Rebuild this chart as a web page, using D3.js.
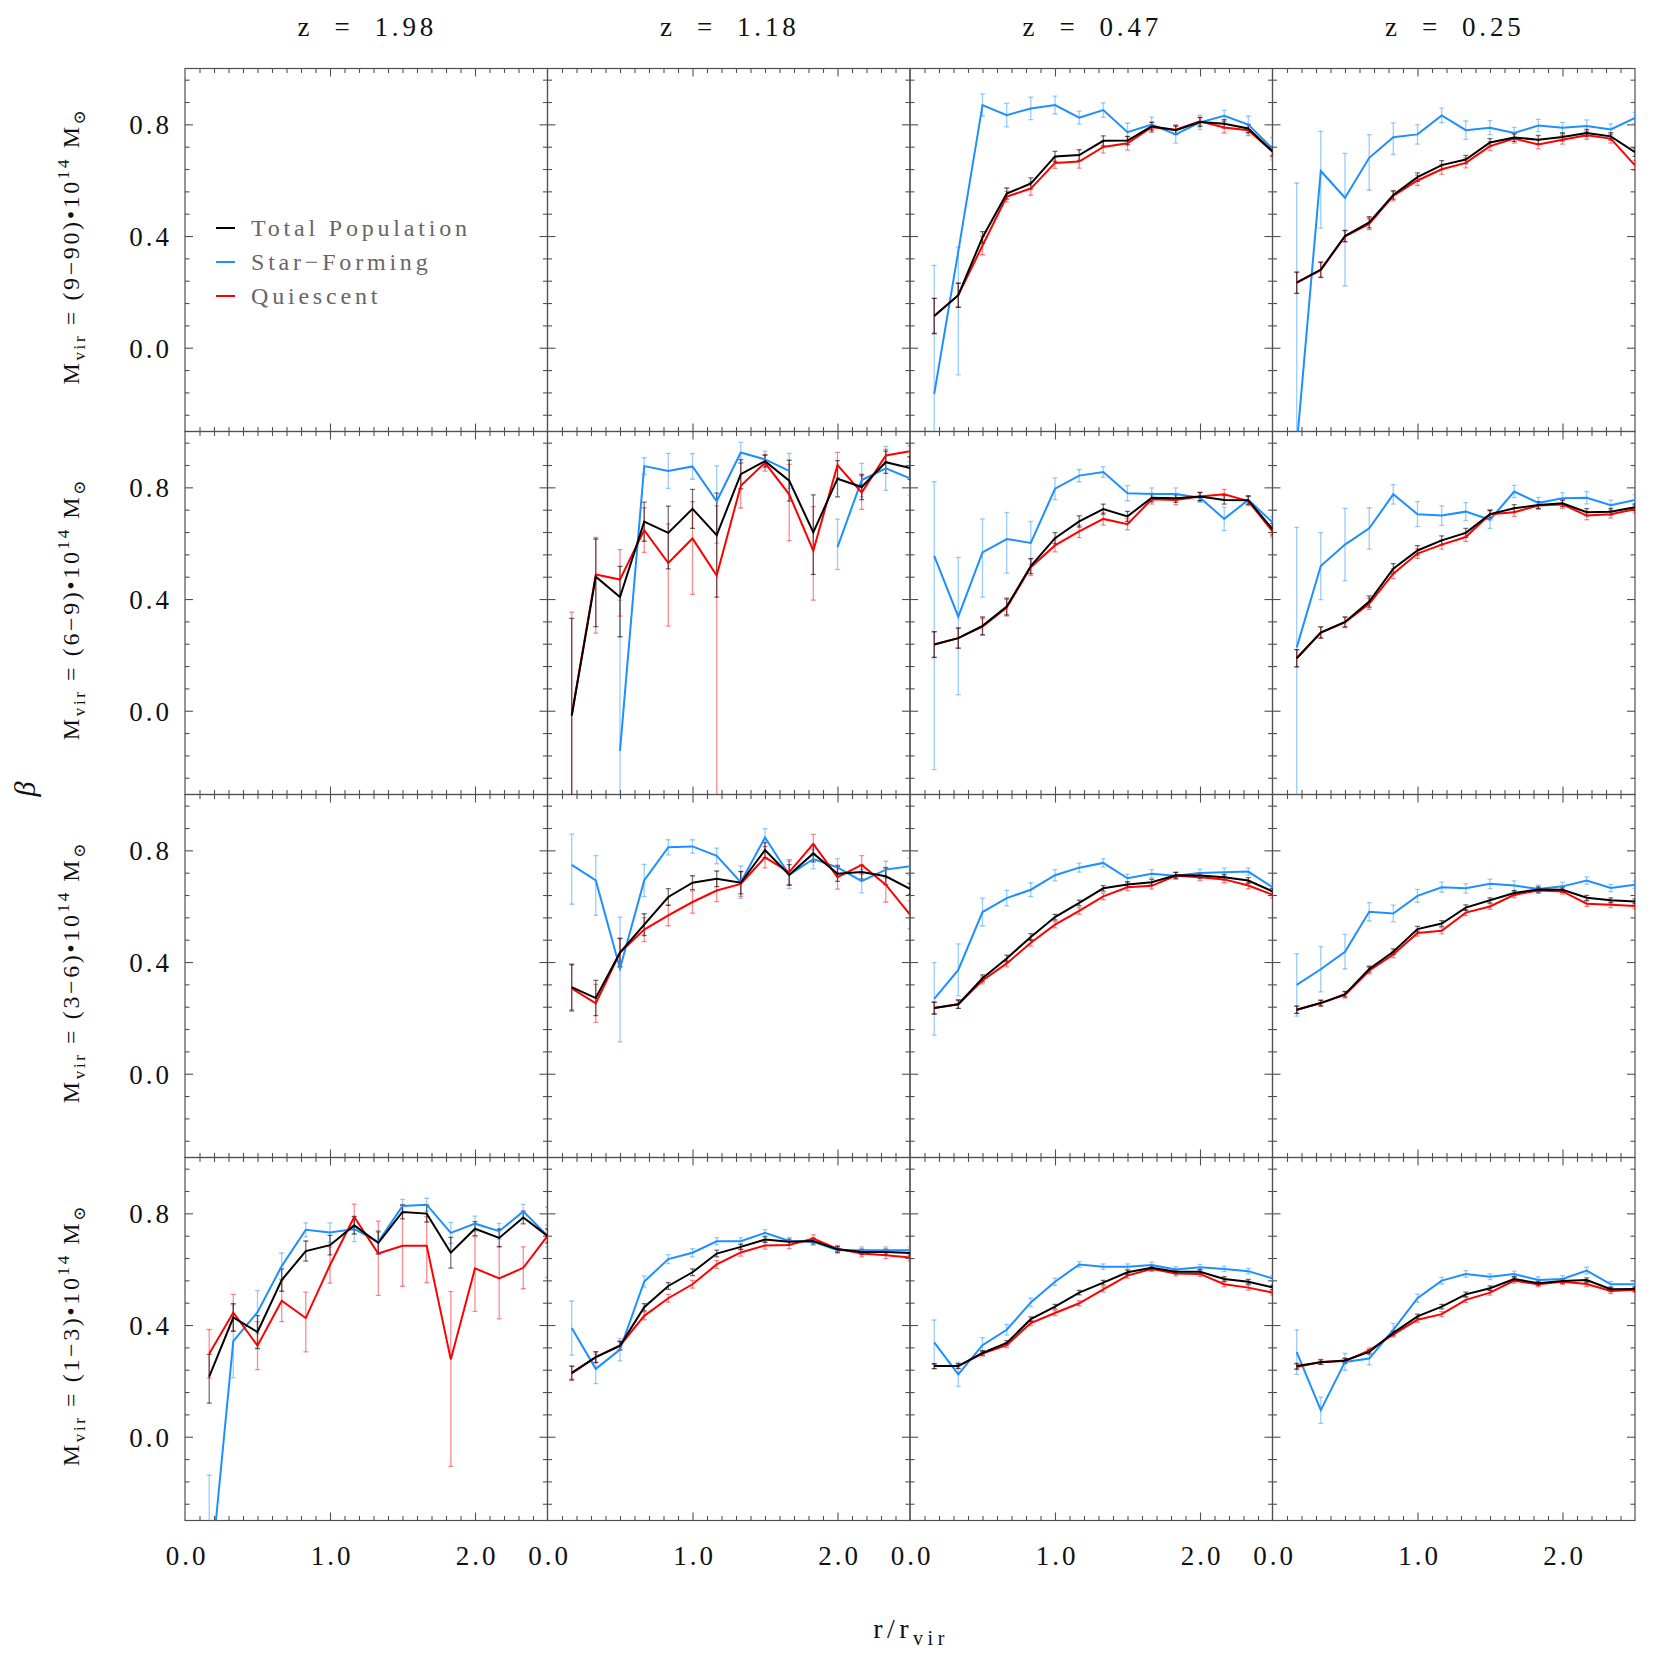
<!DOCTYPE html>
<html><head><meta charset="utf-8">
<script src="https://cdn.jsdelivr.net/npm/d3@7"></script>
<style>body{margin:0;background:#fff}</style>
</head><body>
<script>
// ---------------- DATA ----------------
const rBins = [0.167,0.333,0.5,0.667,0.833,1.0,1.167,1.333,1.5,1.667,1.833,2.0,2.167,2.333,2.5];
const redshifts = ["1.98","1.18","0.47","0.25"];
const massBins = ["9−90","6−9","3−6","1−3"];
const yTickValues = [0.0,0.4,0.8];
const yTickLabels = ["0.0","0.4","0.8"];
const xTickValues = [0,1,2];
const xTickLabels = ["0.0","1.0","2.0"];
const seriesNames = ["Total Population","Star−Forming","Quiescent"];
const seriesColors = ["#000000","#1e8fff","#ff0000"];
// error entries: a number (symmetric) or [minus, plus]

// row 1: M = (9-90)e14, z = 0.47
const tot_m1_z047 = [0.114,0.188,0.395,0.552,0.588,0.685,0.690,0.741,0.742,0.793,0.779,0.808,0.802,0.785,0.703];
const totErr_m1_z047 = [0.063,0.043,0.021,0.02,0.02,0.018,0.019,0.018,0.015,0.014,0.015,0.016,0.015,0.015,0.015];
const sf_m1_z047 = [-0.165,0.345,0.869,0.833,0.857,0.869,0.824,0.851,0.772,0.799,0.764,0.807,0.831,0.799,0.713];
const sfErr_m1_z047 = [0.46,[0.442,0.015],0.04,0.042,0.04,0.032,0.023,0.026,0.032,0.027,0.031,0.026,0.019,0.03,0.04];
const q_m1_z047 = [0.114,0.188,0.366,0.541,0.570,0.662,0.667,0.719,0.732,0.790,0.781,0.811,0.789,0.779,0.703];
const qErr_m1_z047 = [0.063,0.043,0.033,0.019,0.024,0.02,0.024,0.022,0.024,0.018,0.018,0.015,0.02,0.019,0.02];
// row 1, z = 0.25
const tot_m1_z025 = [0.233,0.280,0.400,0.449,0.547,0.611,0.654,0.674,0.735,0.753,0.745,0.755,0.769,0.757,0.700];
const totErr_m1_z025 = [0.038,0.027,0.02,0.02,0.015,0.015,0.016,0.015,0.014,0.014,0.015,0.014,0.013,0.013,0.015];
const sf_m1_z025 = [-0.35,0.633,0.537,0.680,0.754,0.764,0.832,0.779,0.788,0.769,0.796,0.788,0.794,0.782,0.823];
const sfErr_m1_z025 = [0.94,[0.205,0.142],[0.316,0.159],[0.116,0.083],[0.062,0.051],0.035,0.026,0.033,0.025,0.02,0.022,0.019,0.022,0.02,0.02];
const q_m1_z025 = [0.233,0.278,0.399,0.443,0.544,0.599,0.639,0.662,0.722,0.749,0.728,0.745,0.761,0.749,0.653];
const qErr_m1_z025 = [0.038,0.027,0.02,0.02,0.018,0.018,0.018,0.018,0.016,0.016,0.016,0.016,0.015,0.016,0.018];

// row 2: M = (6-9)e14, z = 1.18
const tot_m2_z118 = [-0.017,0.480,0.407,0.677,0.637,0.723,0.629,0.847,0.894,0.824,0.639,0.831,0.801,0.890,0.869];
const totErr_m2_z118 = [0.348,[0.179,0.135],[0.142,0.110],0.07,[0.129,0.096],0.07,[0.222,0.150],0.052,0.021,0.073,[0.151,0.134],0.065,0.045,0.04,0.04];
const sf_m2_z118 = [null,null,-0.144,0.876,0.859,0.875,0.750,0.925,0.900,0.859,null,0.586,0.826,0.868,0.832];
const sfErr_m2_z118 = [null,null,0.54,0.03,0.063,0.046,[0.15,0.127],0.036,0.03,0.063,null,[0.08,0.10],0.06,0.079,0.06];
const q_m2_z118 = [-0.017,0.488,0.470,0.647,0.529,0.617,0.484,0.806,0.888,0.775,0.573,0.880,0.781,0.914,0.929];
const qErr_m2_z118 = [0.37,[0.21,0.133],[0.131,0.107],0.08,[0.226,0.14],[0.2,0.132],[0.8,0.25],0.08,0.03,[0.166,0.107],[0.177,0.158],0.045,0.06,0.022,0.02];
// row 2, z = 0.47
const tot_m2_z047 = [0.237,0.260,0.304,0.373,0.518,0.618,0.678,0.722,0.696,0.763,0.761,0.767,0.755,0.754,0.650];
const totErr_m2_z047 = [0.046,0.036,0.032,0.03,0.027,0.02,0.02,0.018,0.018,0.015,0.015,0.015,0.015,0.015,0.02];
const sf_m2_z047 = [0.555,0.337,0.567,0.615,0.601,0.795,0.842,0.855,0.779,0.776,0.776,0.763,0.687,0.755,0.675];
const sfErr_m2_z047 = [[0.766,0.265],[0.28,0.212],[0.16,0.12],[0.122,0.095],0.077,0.039,0.022,0.019,0.027,0.022,0.022,0.017,0.042,0.015,0.02];
const q_m2_z047 = [0.237,0.260,0.301,0.369,0.514,0.592,0.642,0.687,0.668,0.757,0.755,0.767,0.775,0.751,0.642];
const qErr_m2_z047 = [0.046,0.036,0.03,0.03,0.03,0.023,0.022,0.022,0.02,0.017,0.017,0.015,0.018,0.017,0.02];
// row 2, z = 0.25
const tot_m2_z025 = [0.188,0.280,0.318,0.391,0.509,0.574,0.610,0.637,0.704,0.725,0.737,0.743,0.711,0.713,0.729];
const totErr_m2_z025 = [0.031,0.02,0.018,0.02,0.018,0.017,0.016,0.016,0.014,0.013,0.012,0.012,0.013,0.012,0.012];
const sf_m2_z025 = [0.227,0.518,0.595,0.653,0.775,0.704,0.699,0.713,0.684,0.785,0.744,0.761,0.763,0.736,0.755];
const sfErr_m2_z025 = [[0.55,0.43],0.12,0.13,0.074,0.035,0.045,0.035,0.032,0.031,0.022,0.02,0.02,0.022,0.018,0.018];
const q_m2_z025 = [0.188,0.280,0.316,0.383,0.491,0.563,0.595,0.622,0.704,0.711,0.735,0.739,0.699,0.704,0.722];
const qErr_m2_z025 = [0.031,0.02,0.018,0.02,0.018,0.017,0.016,0.016,0.015,0.015,0.014,0.014,0.015,0.014,0.014];

// row 3: M = (3-6)e14, z = 1.18
const tot_m3_z118 = [0.310,0.271,0.434,0.534,0.633,0.684,0.698,0.684,0.801,0.712,0.789,0.716,0.722,0.707,0.662];
const totErr_m3_z118 = [0.082,0.063,0.05,0.039,0.03,0.025,0.028,0.04,0.027,0.037,0.03,0.027,0.025,0.03,0.02];
const sf_m3_z118 = [0.748,0.692,0.377,0.692,0.811,0.814,0.780,0.686,0.846,0.712,0.769,0.739,0.690,0.731,0.743];
const sfErr_m3_z118 = [[0.141,0.11],[0.125,0.089],[0.263,0.184],0.058,0.027,0.024,0.028,0.058,0.032,0.049,0.035,0.031,0.042,0.03,0.03];
const q_m3_z118 = [0.306,0.252,0.434,0.516,0.567,0.615,0.656,0.680,0.775,0.722,0.823,0.704,0.748,0.677,0.570];
const qErr_m3_z118 = [0.083,0.068,0.052,0.043,0.037,0.04,0.04,0.045,0.038,0.045,0.034,0.043,0.033,0.062,0.05];
// row 3, z = 0.47
const tot_m3_z047 = [0.235,0.249,0.342,0.413,0.490,0.561,0.612,0.664,0.678,0.686,0.711,0.710,0.704,0.692,0.653];
const totErr_m3_z047 = [0.021,0.015,0.012,0.012,0.012,0.01,0.01,0.01,0.01,0.01,0.01,0.01,0.01,0.01,0.01];
const sf_m3_z047 = [0.268,0.372,0.579,0.629,0.659,0.711,0.738,0.755,0.700,0.716,0.709,0.719,0.722,0.724,0.668];
const sfErr_m3_z047 = [0.13,0.093,0.05,0.028,0.025,0.02,0.016,0.015,0.015,0.015,0.012,0.014,0.015,0.013,0.015];
const q_m3_z047 = [0.235,0.249,0.334,0.395,0.469,0.534,0.583,0.635,0.668,0.673,0.709,0.704,0.696,0.674,0.641];
const qErr_m3_z047 = [0.021,0.015,0.012,0.012,0.012,0.012,0.012,0.012,0.012,0.012,0.012,0.012,0.012,0.012,0.012];
// row 3, z = 0.25
const tot_m3_z025 = [0.229,0.253,0.285,0.375,0.437,0.518,0.538,0.595,0.621,0.647,0.660,0.659,0.630,0.621,0.617];
const totErr_m3_z025 = [0.013,0.01,0.01,0.01,0.01,0.01,0.01,0.01,0.009,0.009,0.009,0.009,0.009,0.009,0.009];
const sf_m3_z025 = [0.318,0.374,0.437,0.580,0.574,0.637,0.668,0.664,0.680,0.674,0.662,0.671,0.692,0.665,0.677];
const sfErr_m3_z025 = [0.112,0.081,0.062,0.033,0.03,0.023,0.018,0.017,0.017,0.017,0.013,0.015,0.013,0.013,0.013];
const q_m3_z025 = [0.229,0.253,0.282,0.369,0.427,0.504,0.512,0.577,0.599,0.641,0.656,0.653,0.609,0.605,0.601];
const qErr_m3_z025 = [0.013,0.011,0.011,0.011,0.011,0.011,0.011,0.011,0.01,0.01,0.01,0.01,0.01,0.01,0.01];

// row 4: M = (1-3)e14, z = 1.98
const tot_m4_z198 = [0.215,0.427,0.375,0.561,0.665,0.686,0.757,0.694,0.805,0.799,0.659,0.745,0.712,0.785,0.719];
const totErr_m4_z198 = [[0.095,0.08],0.05,0.059,0.04,0.036,0.035,0.031,0.04,0.025,0.03,0.055,0.025,0.032,0.023,0.025];
const sf_m4_z198 = [-0.548,0.342,0.446,0.611,0.741,0.731,0.744,0.698,0.826,0.831,0.730,0.763,0.736,0.807,0.719];
const sfErr_m4_z198 = [0.41,0.13,0.077,0.047,0.025,0.035,0.045,0.04,0.024,0.023,0.038,0.027,0.028,0.025,0.04];
const q_m4_z198 = [0.297,0.445,0.326,0.487,0.425,0.615,0.787,0.656,0.684,0.684,0.277,0.603,0.567,0.605,0.719];
const qErr_m4_z198 = [0.087,0.065,0.086,0.075,[0.121,0.093],0.065,0.046,[0.15,0.116],0.145,[0.132,0.104],[0.383,0.243],[0.154,0.113],[0.145,0.115],0.075,[0.148,0.103]];
// row 4, z = 1.18
const tot_m4_z118 = [0.229,0.285,0.326,0.464,0.540,0.589,0.656,0.680,0.706,0.698,0.701,0.671,0.662,0.662,0.658];
const totErr_m4_z118 = [0.024,0.019,0.015,0.013,0.012,0.012,0.012,0.01,0.01,0.01,0.01,0.01,0.01,0.01,0.01];
const sf_m4_z118 = [0.389,0.243,0.312,0.556,0.636,0.659,0.700,0.700,0.730,0.701,0.698,0.668,0.668,0.668,0.668];
const sfErr_m4_z118 = [0.097,0.053,0.04,0.02,0.016,0.015,0.013,0.013,0.012,0.013,0.013,0.012,0.012,0.012,0.012];
const q_m4_z118 = [0.227,0.285,0.326,0.433,0.496,0.546,0.617,0.660,0.685,0.687,0.710,0.673,0.656,0.650,0.642];
const qErr_m4_z118 = [0.026,0.02,0.016,0.014,0.014,0.014,0.014,0.013,0.013,0.013,0.013,0.012,0.012,0.012,0.012];
// row 4, z = 0.47
const tot_m4_z047 = [0.253,0.253,0.300,0.336,0.421,0.466,0.516,0.552,0.589,0.605,0.591,0.591,0.565,0.555,0.535];
const totErr_m4_z047 = [0.009,0.008,0.008,0.008,0.008,0.008,0.008,0.008,0.008,0.008,0.008,0.008,0.008,0.008,0.008];
const sf_m4_z047 = [0.338,0.223,0.328,0.383,0.481,0.555,0.617,0.609,0.609,0.615,0.599,0.607,0.601,0.593,0.567];
const sfErr_m4_z047 = [0.08,0.043,0.027,0.019,0.015,0.013,0.01,0.01,0.01,0.01,0.01,0.01,0.01,0.01,0.01];
const q_m4_z047 = [0.253,0.253,0.298,0.328,0.407,0.443,0.478,0.528,0.577,0.601,0.585,0.583,0.546,0.534,0.516];
const qErr_m4_z047 = [0.009,0.009,0.009,0.009,0.009,0.009,0.009,0.009,0.009,0.009,0.009,0.009,0.009,0.009,0.009];
// row 4, z = 0.25
const tot_m4_z025 = [0.253,0.267,0.273,0.304,0.372,0.431,0.466,0.510,0.532,0.565,0.550,0.558,0.561,0.528,0.529];
const totErr_m4_z025 = [0.01,0.008,0.008,0.008,0.008,0.008,0.008,0.008,0.008,0.008,0.008,0.008,0.008,0.008,0.008];
const sf_m4_z025 = [0.303,0.095,0.268,0.280,0.383,0.496,0.559,0.583,0.573,0.583,0.561,0.565,0.595,0.546,0.546];
const sfErr_m4_z025 = [0.08,0.047,0.03,0.023,0.023,0.015,0.012,0.012,0.01,0.01,0.012,0.012,0.012,0.01,0.01];
const q_m4_z025 = [0.250,0.268,0.271,0.309,0.366,0.419,0.439,0.490,0.516,0.559,0.546,0.555,0.547,0.522,0.526];
const qErr_m4_z025 = [0.01,0.009,0.009,0.009,0.009,0.009,0.009,0.009,0.009,0.009,0.009,0.009,0.009,0.009,0.009];

// panel table (row, col) -> series [total, star-forming, quiescent]
const panels = [
  {row:0,col:2,s:[[tot_m1_z047,totErr_m1_z047],[sf_m1_z047,sfErr_m1_z047],[q_m1_z047,qErr_m1_z047]]},
  {row:0,col:3,s:[[tot_m1_z025,totErr_m1_z025],[sf_m1_z025,sfErr_m1_z025],[q_m1_z025,qErr_m1_z025]]},
  {row:1,col:1,s:[[tot_m2_z118,totErr_m2_z118],[sf_m2_z118,sfErr_m2_z118],[q_m2_z118,qErr_m2_z118]]},
  {row:1,col:2,s:[[tot_m2_z047,totErr_m2_z047],[sf_m2_z047,sfErr_m2_z047],[q_m2_z047,qErr_m2_z047]]},
  {row:1,col:3,s:[[tot_m2_z025,totErr_m2_z025],[sf_m2_z025,sfErr_m2_z025],[q_m2_z025,qErr_m2_z025]]},
  {row:2,col:1,s:[[tot_m3_z118,totErr_m3_z118],[sf_m3_z118,sfErr_m3_z118],[q_m3_z118,qErr_m3_z118]]},
  {row:2,col:2,s:[[tot_m3_z047,totErr_m3_z047],[sf_m3_z047,sfErr_m3_z047],[q_m3_z047,qErr_m3_z047]]},
  {row:2,col:3,s:[[tot_m3_z025,totErr_m3_z025],[sf_m3_z025,sfErr_m3_z025],[q_m3_z025,qErr_m3_z025]]},
  {row:3,col:0,s:[[tot_m4_z198,totErr_m4_z198],[sf_m4_z198,sfErr_m4_z198],[q_m4_z198,qErr_m4_z198]]},
  {row:3,col:1,s:[[tot_m4_z118,totErr_m4_z118],[sf_m4_z118,sfErr_m4_z118],[q_m4_z118,qErr_m4_z118]]},
  {row:3,col:2,s:[[tot_m4_z047,totErr_m4_z047],[sf_m4_z047,sfErr_m4_z047],[q_m4_z047,qErr_m4_z047]]},
  {row:3,col:3,s:[[tot_m4_z025,totErr_m4_z025],[sf_m4_z025,sfErr_m4_z025],[q_m4_z025,qErr_m4_z025]]}
];

// ---------------- LAYOUT ----------------
const W = 1661, Hh = 1661;
const left0 = 185, top0 = 68.5, cellW = 362.5, cellH = 363;
const FONT = "'Liberation Serif', 'DejaVu Serif', serif";
const frameColor = "#505050";

const svg = d3.select("body").append("svg").attr("width", W).attr("height", Hh)
  .style("font-family", FONT);
const defs = svg.append("defs");

const xDomain = [0, 2.5], yDomain = [-0.3, 1.0];
const yMinor = d3.range(-0.24, 1.0, 0.08).map(v => +v.toFixed(2)).filter(v => Math.abs(v/0.4 - Math.round(v/0.4)) > 1e-6);
const xMinor = d3.range(0.1, 2.5, 0.1).map(v => +v.toFixed(1)).filter(v => Math.abs(v - Math.round(v)) > 1e-6);
const MAJ = 8, MIN = 4.5;

function xs(col){ const l = left0 + col*cellW; return d3.scaleLinear().domain(xDomain).range([l, l+cellW]); }
function ys(row){ const t = top0 + row*cellH; return d3.scaleLinear().domain(yDomain).range([t+cellH, t]); }

for (let row = 0; row < 4; row++) {
  for (let col = 0; col < 4; col++) {
    const x = xs(col), y = ys(row);
    const g = svg.append("g");
    const l = x.range()[0], r = x.range()[1], t = y.range()[1], b = y.range()[0];
    const mk = (axis, pos, vals, len) => {
      const a = g.append("g").attr("transform", pos)
        .call(axis.tickValues(vals).tickSize(-len).tickFormat(""));
      a.select(".domain").remove();
      a.selectAll("line").attr("stroke", frameColor).attr("stroke-width", 1.1);
    };
    mk(d3.axisLeft(y), `translate(${l},0)`, yTickValues, MAJ);
    mk(d3.axisLeft(y), `translate(${l},0)`, yMinor, MIN);
    mk(d3.axisRight(y), `translate(${r},0)`, yTickValues, MAJ);
    mk(d3.axisRight(y), `translate(${r},0)`, yMinor, MIN);
    mk(d3.axisBottom(x), `translate(0,${b})`, xTickValues.filter(v=>v>0), MAJ);
    mk(d3.axisBottom(x), `translate(0,${b})`, xMinor, MIN);
    mk(d3.axisTop(x), `translate(0,${t})`, xTickValues.filter(v=>v>0), MAJ);
    mk(d3.axisTop(x), `translate(0,${t})`, xMinor, MIN);
    g.append("rect").attr("x", l).attr("y", t).attr("width", r-l).attr("height", b-t)
      .attr("fill", "none").attr("stroke", frameColor).attr("stroke-width", 1.2);

    if (col === 0) {
      const ya = g.append("g").attr("transform", `translate(${l-10},0)`)
        .call(d3.axisLeft(y).tickValues(yTickValues).tickSize(0).tickFormat((d,i)=>yTickLabels[i]));
      ya.select(".domain").remove();
      ya.selectAll("text").attr("font-family", FONT).attr("font-size", 27).attr("fill", "#111")
        .attr("letter-spacing", 3).attr("dy", "0.35em");
    }
    if (row === 3) {
      const xa = g.append("g").attr("transform", `translate(1.5,${b+22})`)
        .call(d3.axisBottom(x).tickValues(xTickValues).tickSize(0).tickFormat((d,i)=>xTickLabels[i]));
      xa.select(".domain").remove();
      xa.selectAll("text").attr("font-family", FONT).attr("font-size", 27).attr("fill", "#111")
        .attr("letter-spacing", 3);
    }
  }
}

// column titles
redshifts.forEach((z, col) => {
  const x = xs(col);
  svg.append("text").attr("x", (x.range()[0]+x.range()[1])/2 + 1).attr("y", 36)
    .attr("text-anchor", "middle").attr("font-size", 27).attr("fill", "#111")
    .attr("letter-spacing", 3.8).attr("xml:space", "preserve")
    .text("z  =  " + z);
});

// row labels
massBins.forEach((m, row) => {
  const y = ys(row);
  const cy = (y.range()[0]+y.range()[1])/2 - 4;
  const tx = svg.append("text").attr("transform", `translate(79,${cy}) rotate(-90)`)
    .attr("text-anchor", "middle").attr("font-size", 24).attr("fill", "#111")
    .attr("letter-spacing", 2.6).attr("xml:space", "preserve");
  tx.append("tspan").text("M");
  tx.append("tspan").attr("font-size", 17).attr("dy", 6).text("vir");
  tx.append("tspan").attr("dy", -6).text(" = (" + m + ")•10");
  tx.append("tspan").attr("font-size", 17).attr("dy", -10).text("14");
  tx.append("tspan").attr("dy", 10).text(" M");
  tx.append("tspan").attr("font-size", 17).attr("dy", 6).text("⊙");
});

// axis titles
svg.append("text").attr("transform", "translate(35,789) rotate(-90)").attr("text-anchor", "middle")
  .attr("font-size", 30).attr("font-style", "italic").attr("fill", "#111").text("β");
const xt = svg.append("text").attr("x", 911).attr("y", 1638).attr("text-anchor", "middle")
  .attr("font-size", 28).attr("fill", "#111").attr("letter-spacing", 4.5);
xt.append("tspan").text("r/r");
xt.append("tspan").attr("font-size", 20).attr("dy", 7).text("vir");

// data
const drawOrder = [1, 2, 0];
panels.forEach((p, pi) => {
  const x = xs(p.col), y = ys(p.row);
  const l = x.range()[0], t = y.range()[1];
  const cid = "clip" + pi;
  defs.append("clipPath").attr("id", cid).append("rect")
    .attr("x", l).attr("y", t).attr("width", cellW).attr("height", cellH);
  const g = svg.append("g").attr("clip-path", `url(#${cid})`);
  drawOrder.forEach(si => {
    const [vals, errs] = p.s[si];
    const col = seriesColors[si];
    const eg = g.append("g").attr("stroke", col).attr("stroke-opacity", si === 0 ? 0.55 : 0.45).attr("stroke-width", 1.3);
    vals.forEach((v, i) => {
      if (v == null) return;
      const e = errs[i];
      const mi = Array.isArray(e) ? e[0] : e, pl = Array.isArray(e) ? e[1] : e;
      const xx = x(rBins[i]), y0 = y(v - mi), y1 = y(v + pl);
      eg.append("line").attr("x1", xx).attr("x2", xx).attr("y1", y0).attr("y2", y1);
      eg.append("line").attr("x1", xx-2.5).attr("x2", xx+2.5).attr("y1", y0).attr("y2", y0);
      eg.append("line").attr("x1", xx-2.5).attr("x2", xx+2.5).attr("y1", y1).attr("y2", y1);
    });
  });
  drawOrder.forEach(si => {
    const vals = p.s[si][0];
    const line = d3.line().defined(d => d != null).x((d, i) => x(rBins[i])).y(d => y(d));
    g.append("path").datum(vals).attr("d", line).attr("fill", "none")
      .attr("stroke", seriesColors[si]).attr("stroke-width", 2).attr("stroke-linejoin", "miter");
  });
});

// legend in top-left panel
const lg = svg.append("g");
seriesNames.forEach((name, i) => {
  const yy = 228 + i*34;
  lg.append("line").attr("x1", 216).attr("x2", 235).attr("y1", yy).attr("y2", yy)
    .attr("stroke", seriesColors[i]).attr("stroke-width", 2);
  lg.append("text").attr("x", 251).attr("y", yy).attr("dy", "0.35em").attr("font-size", 24)
    .attr("fill", "#666").attr("letter-spacing", 3.8).text(name);
});
</script>
</body></html>
